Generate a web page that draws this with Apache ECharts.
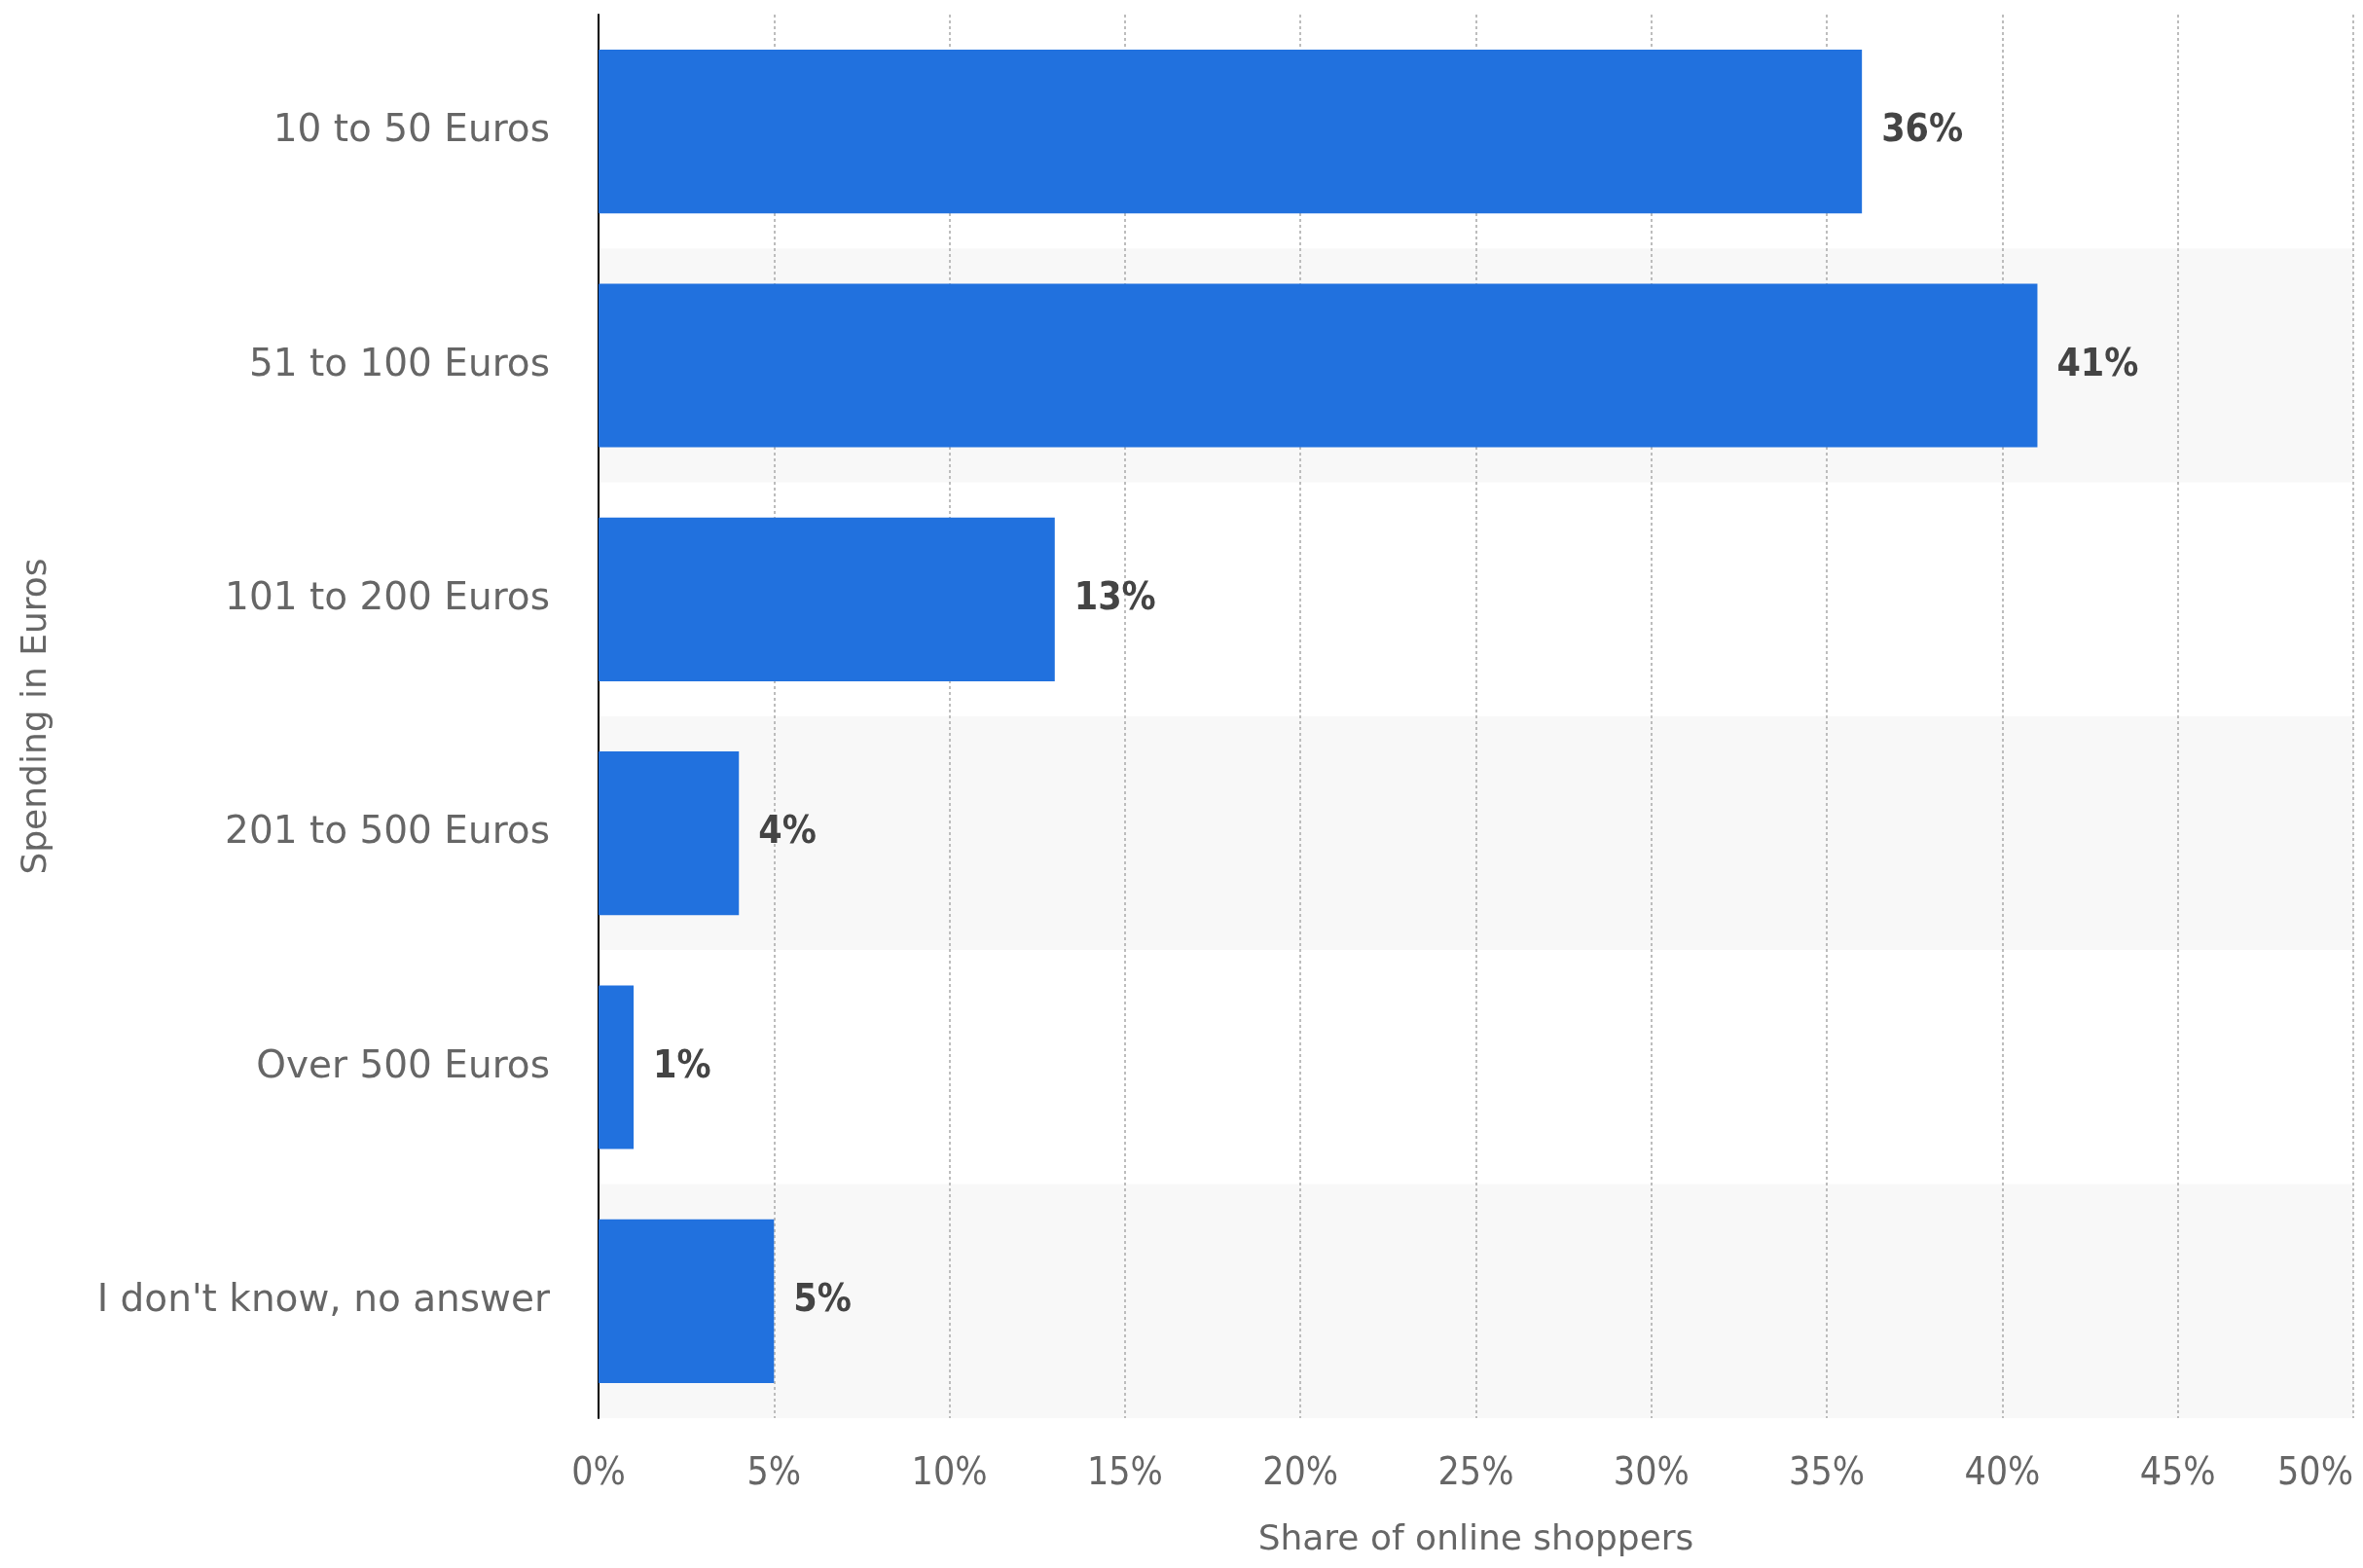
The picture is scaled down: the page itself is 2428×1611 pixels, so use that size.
<!DOCTYPE html>
<html>
<head>
<meta charset="utf-8">
<script src="https://cdn.jsdelivr.net/npm/echarts@6/dist/echarts.min.js"></script>
<style>
  html, body { margin: 0; padding: 0; background: #fff; }
  #chart { width: 2428px; height: 1611px; }
</style>
</head>
<body>
<div id="chart"></div>
<script>
// Spending brackets (top to bottom) and the share of online shoppers in each
const categories = [
  '10 to 50 Euros',
  '51 to 100 Euros',
  '101 to 200 Euros',
  '201 to 500 Euros',
  'Over 500 Euros',
  "I don't know, no answer"
];
const shares = [36, 41, 13, 4, 1, 5];

// Share axis range and step
const axisMin = 0;
const axisMax = 50;
const axisStep = 5;

const FONT = '"DejaVu Sans", "Open Sans", sans-serif';
const FONT_NARROW = '"DejaVu Sans Condensed", "DejaVu Sans", sans-serif';

const chart = echarts.init(document.getElementById('chart'), null, { renderer: 'canvas' });

chart.setOption({
  backgroundColor: '#ffffff',
  animation: false,
  grid: {
    left: 615,
    right: 10,
    top: 15,
    bottom: 154,
    containLabel: false
  },
  xAxis: {
    type: 'value',
    min: axisMin,
    max: axisMax,
    interval: axisStep,
    name: 'Share of online shoppers',
    nameLocation: 'middle',
    nameGap: 108,
    nameTextStyle: { fontFamily: FONT, fontSize: 36, color: '#666666' },
    axisLine: { show: false },
    axisTick: { show: false },
    axisLabel: {
      fontFamily: FONT_NARROW,
      fontSize: 39,
      color: '#666666',
      margin: 38,
      alignMaxLabel: 'right',
      formatter: '{value}%'
    },
    splitLine: {
      show: true,
      lineStyle: { color: '#bdbdbd', width: 2, type: [3, 3] }
    }
  },
  yAxis: {
    type: 'category',
    inverse: true,
    data: categories,
    name: 'Spending in Euros',
    nameLocation: 'middle',
    nameGap: 559,
    nameTextStyle: { fontFamily: FONT, fontSize: 36, color: '#666666' },
    axisLine: { show: true, lineStyle: { color: '#000000', width: 2 } },
    axisTick: { show: false },
    axisLabel: {
      fontFamily: FONT,
      fontSize: 39,
      color: '#666666',
      margin: 50
    },
    splitLine: { show: false },
    splitArea: {
      show: true,
      areaStyle: { color: ['#ffffff', '#f8f8f8'] }
    }
  },
  series: [{
    type: 'bar',
    data: shares,
    barCategoryGap: '30%',
    itemStyle: { color: '#2171de' },
    label: {
      show: true,
      position: 'right',
      distance: 20,
      formatter: '{c}%',
      fontFamily: FONT_NARROW,
      fontSize: 39,
      fontWeight: 'bold',
      color: '#444444'
    }
  }]
});
</script>
</body>
</html>
